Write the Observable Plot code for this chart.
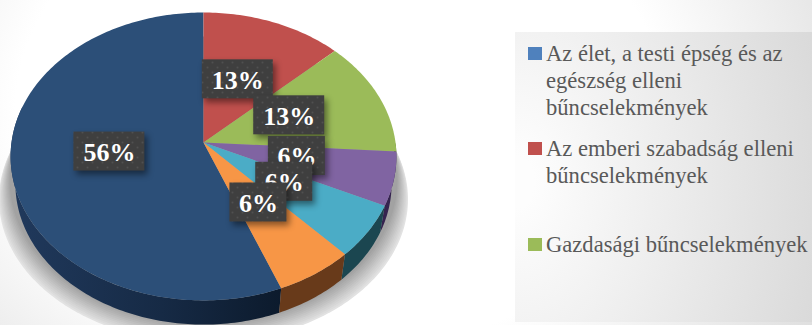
<!DOCTYPE html>
<html lang="hu">
<head>
<meta charset="utf-8">
<script src="https://cdn.jsdelivr.net/npm/d3@7"></script>
<script src="https://cdn.jsdelivr.net/npm/@observablehq/plot@0.6"></script>
<style>
  html, body { margin: 0; padding: 0; }
  #slide {
    position: relative; width: 812px; height: 325px; overflow: hidden;
    background: radial-gradient(ellipse 590px 440px at 340px 110px, #fff 55%, #dadada 100%);
  }
  #panel {
    position: absolute; left: 515px; top: 32px; width: 297px; height: 290px;
    background: radial-gradient(ellipse 380px 520px at 0px 150px, #fdfdfd 5%, #d2d2d2 100%);
  }
  #legend {
    position: absolute; left: 0; top: 0; width: 100%; height: 100%;
    font: 22.6px/27px "Liberation Serif", serif; color: #595959;
  }
  .entry { position: absolute; left: 31px; white-space: pre; }
  .swatch { position: absolute; left: -18px; top: 7px; width: 14px; height: 13px; }
</style>
</head>
<body>
<div id="slide"><div id="panel"><div id="legend"></div></div></div>
<script>
// Share of offences per category, clockwise from the big slice.
const sliceKeys = ["elet", "szabadsag", "gazdasagi", "negyedik", "otodik", "hatodik"];
const sliceValues = [56, 13, 13, 6, 6, 6];
const sliceLabels = ["56%", "13%", "13%", "6%", "6%", "6%"];
const topColors = ["#2c4f78", "#c0504d", "#9bbb59", "#8064a2", "#4bacc6", "#f79646"];
const wallColors = ["url(#wallBlue)", "#5a2422", "#4a5a2a", "#35234f", "#1b4650", "#683a1a"];

const legendTexts = [
  "Az élet, a testi épség és az\negészség elleni\nbűncselekmények",
  "Az emberi szabadság elleni\nbűncselekmények",
  "Gazdasági bűncselekmények"
];
const legendColors = ["#4f81bd", "#c0504d", "#9bbb59"];
const legendTops = [8, 103, 199];

const firstSliceAngle = 158.4; // degrees clockwise from twelve o'clock
const tilt = 0.097;            // strength of the perspective foreshortening
const wallDepth = 0.197;       // thickness of the disc, in y units
const wallShrink = 0.975;      // the lower rim sits further from the eye

// Tilted disc: maps an angle and a radius to the plane of the chart.
function project(deg, r = 1) {
  const t = deg * Math.PI / 180;
  const toward = -Math.cos(t);
  const w = 1 - tilt * toward;
  return {x: r * Math.sin(t) / w, y: r * toward / w};
}
function arcAngles(a0, a1) {
  const n = Math.max(2, Math.ceil(Math.abs(a1 - a0)));
  return d3.range(n + 1).map(i => a0 + (a1 - a0) * i / n);
}

const total = d3.sum(sliceValues);
let cursor = firstSliceAngle;
const slices = sliceKeys.map((key, i) => {
  const a0 = cursor;
  const a1 = a0 + sliceValues[i] / total * 360;
  cursor = a1;
  return {key, i, a0, a1, mid: (a0 + a1) / 2};
});

const faces = slices.flatMap(s => [
  {key: s.key, ...project(0, 0)},
  ...arcAngles(s.a0, s.a1).map(a => ({key: s.key, ...project(a)}))
]);

// Only the near side of the disc shows its wall.
const walls = slices.flatMap(s => {
  const wrap = s.a0 >= 360 ? 360 : 0;
  const a0 = Math.max(s.a0 - wrap, 90), a1 = Math.min(s.a1 - wrap, 285);
  if (a0 >= a1) return [];
  const angles = arcAngles(a0, a1);
  const upper = angles.map(a => project(a));
  const lower = angles.slice().reverse().map(a => {
    const p = project(a);
    return {x: p.x * wallShrink, y: p.y * wallShrink + wallDepth};
  });
  return [{i: s.i, pts: [...upper, ...lower]}];
});

// Cast shadow around the near half of the disc, feathered by stacking
// outlines that darken as they tighten towards the disc.
const shadowSteps = 12;
const shadowTone = d3.interpolateRgb("#e2e2e2", "#a2a2a2");
const shadowLayers = d3.range(shadowSteps).map(k => arcAngles(0, 360).map(a => {
  const p = project(a);
  return {x: p.x * (1.06 - k * 0.005), y: p.y + 0.3 - k * 0.012};
}));

// Label plates sit about halfway out along each slice's bisector.
const plateX = s => sliceLabels[s.i].length > 2 ? 35.5 / 192 : 28.5 / 192;
const plateY = 19.5 / 142.6;
const plates = slices.map(s => {
  const p = project(s.mid, 0.49);
  return {...s, cx: p.x, cy: p.y - 0.03, label: sliceLabels[s.i]};
});

const plateMarks = plates.flatMap(p => [
  Plot.rect([p], {
    x1: d => d.cx - plateX(d), x2: d => d.cx + plateX(d),
    y1: d => d.cy - plateY, y2: d => d.cy + plateY,
    fill: "url(#plateDots)",
    imageFilter: "drop-shadow(3px 4px 3px rgba(0,0,0,0.45))"
  }),
  Plot.text([p], {
    x: "cx", y: "cy", text: "label", fill: "white",
    fontFamily: "Liberation Serif", fontWeight: "bold", fontSize: 26, dy: 1
  })
]);

const chart = Plot.plot({
  width: 812, height: 325,
  marginTop: 0, marginRight: 0, marginBottom: 0, marginLeft: 0,
  style: {background: "transparent"},
  x: {domain: [-1, 1], range: [11, 395], axis: null},
  y: {domain: [-1, 1], range: [-0.6, 284.6], axis: null},
  color: {domain: sliceKeys, range: topColors},
  marks: [
    ...shadowLayers.map((layer, k) => Plot.line(layer, {
      x: "x", y: "y", fill: d3.color(shadowTone(k / (shadowSteps - 1))).formatHex(), stroke: "none"
    })),
    ...walls.map(w => Plot.line(w.pts, {x: "x", y: "y", fill: wallColors[w.i], stroke: "none"})),
    Plot.line(faces, {x: "x", y: "y", z: "key", fill: "key", stroke: "none"}),
    ...plateMarks
  ]
});

// Paint servers for the wall and the label plates.
d3.select(chart).insert("defs", ":first-child").html(`
  <linearGradient id="wallBlue" gradientUnits="userSpaceOnUse" x1="12" x2="283" y1="0" y2="0">
    <stop offset="0" stop-color="#20395c"/><stop offset="0.55" stop-color="#162a45"/>
    <stop offset="1" stop-color="#0c1a2c"/>
  </linearGradient>
  <pattern id="plateDots" patternUnits="userSpaceOnUse" width="10" height="10">
    <rect width="10" height="10" fill="#3f3f3f"/>
    <circle cx="2.5" cy="2.5" r="1" fill="#505050"/>
    <circle cx="7.5" cy="7.5" r="1" fill="#505050"/>
  </pattern>`);
document.getElementById("slide").prepend(chart);
chart.style.position = "absolute";
chart.style.left = "0";
chart.style.top = "0";
chart.style.zIndex = "1";

const legend = d3.select("#legend");
legendTexts.forEach((text, i) => {
  const entry = legend.append("div").attr("class", "entry").style("top", legendTops[i] + "px").text(text);
  entry.append("span").attr("class", "swatch").style("background", legendColors[i]);
});
</script>
</body>
</html>
